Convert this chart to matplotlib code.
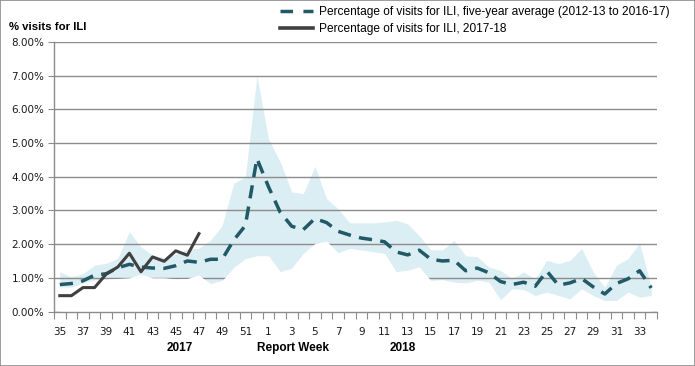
import numpy as np
import matplotlib
matplotlib.use("Agg")
import matplotlib.pyplot as plt
from matplotlib.lines import Line2D
from matplotlib.patches import Rectangle

weeks = list(range(35, 53)) + list(range(1, 35))

current = [0.47, 0.47, 0.71, 0.71, 1.11, 1.32, 1.73, 1.18, 1.62, 1.49, 1.80, 1.67, 2.31]

five_year_avg = [0.80, 0.83, 0.91, 1.08, 1.12, 1.30, 1.40, 1.32, 1.29, 1.28, 1.36, 1.50, 1.46,
                 1.55, 1.55, 2.12, 2.55, 4.54,
                 3.70, 2.95, 2.53, 2.43, 2.76, 2.64, 2.38, 2.27, 2.18, 2.13, 2.07, 1.77, 1.68,
                 1.82, 1.55, 1.50, 1.52, 1.21, 1.29, 1.15, 0.89, 0.80, 0.87, 0.75, 1.20, 0.78,
                 0.85, 0.98, 0.73, 0.52, 0.83, 0.97, 1.21, 0.70]

band_upper = [1.17, 1.03, 1.12, 1.38, 1.43, 1.58, 2.37, 1.92, 1.67, 1.60, 1.70, 1.85, 1.88,
              2.12, 2.55, 3.80, 4.00, 7.00,
              5.12, 4.45, 3.55, 3.50, 4.31, 3.35, 3.05, 2.63, 2.63, 2.63, 2.66, 2.71, 2.60,
              2.25, 1.83, 1.83, 2.11, 1.65, 1.63, 1.32, 1.22, 0.98, 1.17, 0.97, 1.52, 1.42,
              1.52, 1.87, 1.17, 0.72, 1.37, 1.57, 2.03, 0.72]

band_lower = [0.72, 0.72, 0.85, 0.93, 0.96, 0.98, 1.00, 1.10, 1.00, 1.00, 0.97, 0.98, 1.08,
              0.82, 0.92, 1.30, 1.56, 1.65,
              1.65, 1.18, 1.28, 1.72, 2.02, 2.09, 1.74, 1.87, 1.82, 1.77, 1.72, 1.18, 1.22,
              1.32, 0.92, 0.94, 0.87, 0.84, 0.92, 0.87, 0.34, 0.67, 0.65, 0.47, 0.57, 0.47,
              0.37, 0.67, 0.47, 0.32, 0.32, 0.57, 0.42, 0.47]

y_ticks = [0, 1, 2, 3, 4, 5, 6, 7, 8]

fig = plt.figure(figsize=(6.95, 3.66), dpi=100)
fig.patch.set_facecolor("white")
fig.patches.append(Rectangle((0, 0), 1, 1, transform=fig.transFigure, fill=False,
                             edgecolor="#8c8c8c", linewidth=1.2, zorder=10))

ax = fig.add_axes([54 / 695, 1 - 311.5 / 366, (657 - 54) / 695, (311.5 - 42) / 366])
x = np.arange(len(weeks))
xc = np.arange(len(current))

band_col = "#DAEEF3"
grid_col = "#8c8c8c"
ax.fill_between(x, band_lower, band_upper, color=band_col, linewidth=0, zorder=0.5)
for yv in y_ticks:
    ax.axhline(yv, color=grid_col, linewidth=1.0, zorder=1)
ax.fill_between(x, 0, band_lower, color="white", linewidth=0, zorder=1.5)

avg_line, = ax.plot(x, five_year_avg, color="#215967", linewidth=2.5, zorder=3,
                    solid_capstyle="butt", dash_capstyle="butt")
avg_line.set_dashes((3.8, 2.4))
cur_line, = ax.plot(xc, current, color="#404040", linewidth=2.2, zorder=4)

ax.set_xlim(-0.5, len(weeks) - 0.5)
ax.set_ylim(0, 8)
ax.set_yticks(y_ticks)
ax.set_yticklabels([f"{v:.2f}%" for v in y_ticks], fontsize=7.5, color="#1a1a1a")
ax.set_xticks(x[::2])
ax.set_xticklabels([str(weeks[i]) for i in x[::2]], fontsize=7.5, color="#1a1a1a")
ax.set_xticks(np.arange(-0.5, len(weeks)), minor=True)
ax.tick_params(axis="x", which="major", length=0, pad=11)
ax.tick_params(axis="x", which="minor", length=5, width=0.8, color=grid_col, direction="out")
ax.tick_params(axis="y", length=4, width=0.8, color=grid_col, pad=3)
for s in ["top", "right"]:
    ax.spines[s].set_visible(False)
for s in ["left", "bottom"]:
    ax.spines[s].set_color(grid_col)
    ax.spines[s].set_linewidth(1.0)
    ax.spines[s].set_zorder(5)

fig.text(9 / 695, 1 - 27 / 366, "% visits for ILI", fontsize=8.2, fontweight="bold",
         family="Liberation Sans", ha="left", va="center")
fig.text(180 / 695, 1 - 348 / 366, "2017", fontsize=8.5, fontweight="bold",
         family="Liberation Sans", ha="center", va="center")
fig.text(293 / 695, 1 - 348 / 366, "Report Week", fontsize=8.5, fontweight="bold",
         family="Liberation Sans", ha="center", va="center")
fig.text(403 / 695, 1 - 348 / 366, "2018", fontsize=8.5, fontweight="bold",
         family="Liberation Sans", ha="center", va="center")

h1 = Line2D([], [], color="#215967", linewidth=2.5, dashes=(3.6, 3.0))
h2 = Line2D([], [], color="#404040", linewidth=2.6)
fig.legend([h1, h2],
           ["Percentage of visits for ILI, five-year average (2012-13 to 2016-17)",
            "Percentage of visits for ILI, 2017-18"],
           loc="upper left", bbox_to_anchor=(280 / 695, 1 - 6 / 366), frameon=False,
           prop={"family": "Liberation Sans", "size": 8.6}, handlelength=2.75,
           handletextpad=0.48, labelspacing=0.45, borderpad=0, borderaxespad=0)

fig.savefig("out.png", dpi=100)
